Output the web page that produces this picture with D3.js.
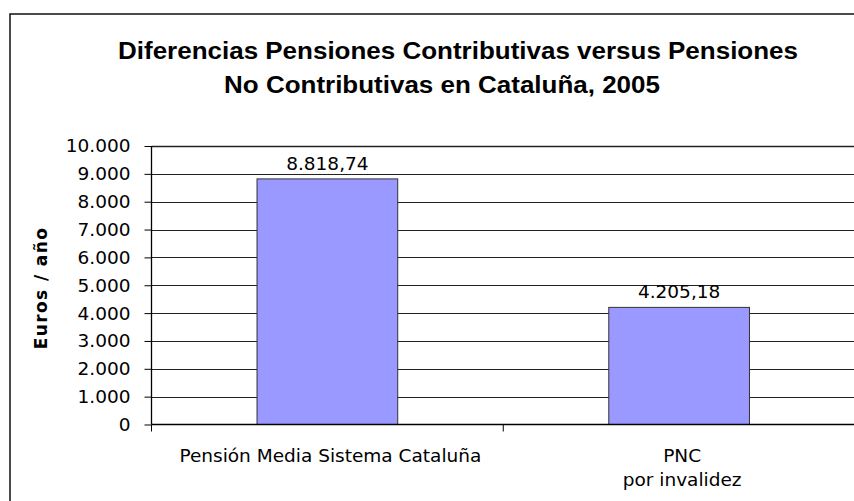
<!DOCTYPE html>
<html>
<head>
<meta charset="utf-8">
<script src="https://cdn.jsdelivr.net/npm/d3@7"></script>
<style>
  body { margin: 0; background: #fff; }
  svg { display: block; }
</style>
</head>
<body>
<div class="bar-chart-container"></div>
<script>
const categories = ['Pensión Media Sistema Cataluña', 'PNC\npor invalidez'];
const values = [8818.74, 4205.18];
const yTicks = [0, 1000, 2000, 3000, 4000, 5000, 6000, 7000, 8000, 9000, 10000];
const titleLines = ['Diferencias Pensiones Contributivas versus Pensiones', 'No Contributivas en Cataluña, 2005'];
const yLabel = 'Euros / año';

const es = d3.formatLocale({decimal: ',', thousands: '.', grouping: [3], currency: ['', ' €']});
const fmtTick = es.format(',d');
const fmtValue = es.format(',.2f');

function setupCanvas(){
    const svg_width = 854;
    const svg_height = 501;
    const plot = {left: 151.5, right: 855, top: 146, bottom: 424.5};
    const verdana = 'Verdana, "DejaVu Sans", sans-serif';

    const svg = d3.select('.bar-chart-container')
                  .append('svg')
                  .attr('width', svg_width)
                  .attr('height', svg_height);

    // outer chart border (runs off the right and bottom of the picture)
    svg.append('rect')
       .attr('x', 10).attr('y', 14)
       .attr('width', 900).attr('height', 600)
       .style('fill', 'none')
       .style('stroke', '#111')
       .style('stroke-width', 1.5);

    const xScale = d3.scaleBand().domain(categories)
                     .range([plot.left, plot.right])
                     .paddingInner(0.6).paddingOuter(0.3);
    const yScale = d3.scaleLinear().domain([0, 10000]).range([plot.bottom, plot.top]);

    // y axis ticks + labels
    const yAxis = d3.axisLeft(yScale).tickValues(yTicks).tickFormat(fmtTick)
                    .tickSizeInner(7).tickSizeOuter(0).tickPadding(14);
    const gy = svg.append('g').attr('class', 'yaxis')
                  .attr('transform', `translate(${plot.left},0)`)
                  .call(yAxis);
    gy.select('.domain').remove();
    gy.selectAll('text').style('font-family', verdana).style('font-size', '18.5px').style('fill', '#000');
    gy.selectAll('line').style('stroke', '#000');

    // gridlines
    svg.append('g').attr('class', 'grid')
       .selectAll('line').data(yTicks.filter(d => d > 0)).enter()
       .append('line')
       .attr('x1', plot.left).attr('x2', plot.right)
       .attr('y1', d => Math.round(yScale(d)) + 0.5)
       .attr('y2', d => Math.round(yScale(d)) + 0.5)
       .style('stroke', '#222')
       .style('stroke-width', d => d === 10000 ? 1.6 : 1);

    // bars
    svg.append('g').attr('class', 'bars')
       .selectAll('rect').data(values).enter()
       .append('rect')
       .attr('x', (d, i) => xScale(categories[i]))
       .attr('y', d => yScale(d))
       .attr('width', xScale.bandwidth())
       .attr('height', d => yScale(0) - yScale(d))
       .style('fill', '#9999ff')
       .style('stroke', '#333')
       .style('stroke-width', 1);

    // value labels
    svg.append('g').attr('class', 'value-labels')
       .selectAll('text').data(values).enter()
       .append('text')
       .attr('x', (d, i) => xScale(categories[i]) + xScale.bandwidth()/2)
       .attr('y', d => yScale(d) - 9)
       .attr('text-anchor', 'middle')
       .style('font-family', verdana).style('font-size', '18.5px')
       .text(d => fmtValue(d));

    // left axis line and baseline
    svg.append('line')
       .attr('x1', plot.left).attr('x2', plot.left)
       .attr('y1', plot.top).attr('y2', plot.bottom)
       .style('stroke', '#000').style('stroke-width', 1.3);
    svg.append('line')
       .attr('x1', plot.left).attr('x2', plot.right)
       .attr('y1', plot.bottom).attr('y2', plot.bottom)
       .style('stroke', '#000').style('stroke-width', 1.3);

    // category separator ticks
    const step = xScale.step();
    const bounds = categories.map((c, i) => plot.left + i * step).concat([plot.right]);
    svg.append('g').selectAll('line').data(bounds).enter()
       .append('line')
       .attr('x1', d => d).attr('x2', d => d)
       .attr('y1', plot.bottom).attr('y2', plot.bottom + 7)
       .style('stroke', '#000');

    // category labels
    svg.append('g').attr('class', 'x-labels')
       .selectAll('text').data(categories).enter()
       .append('text')
       .attr('text-anchor', 'middle')
       .attr('transform', d => `translate(${xScale(d) + xScale.bandwidth()/2 + 3}, 462)`)
       .style('font-family', verdana).style('font-size', '18.5px')
       .selectAll('tspan').data(d => d.split('\n')).enter()
       .append('tspan')
       .attr('x', 0)
       .attr('y', (d, i) => i * 23.5)
       .text(d => d);

    // y axis title
    svg.append('text')
       .attr('transform', 'translate(47, 288) rotate(-90)')
       .attr('text-anchor', 'middle')
       .style('font-family', verdana).style('font-size', '17px')
       .style('font-weight', 'bold').style('letter-spacing', '1.4px')
       .text(yLabel);

    // title (the original is slightly stretched horizontally)
    const titlePos = [[458, 58.5], [442, 92.5]];
    svg.append('g').attr('class', 'bar-header')
       .selectAll('text').data(titleLines).enter()
       .append('text')
       .attr('transform', (d, i) => `translate(${titlePos[i][0]}, ${titlePos[i][1]}) scale(1.083, 1)`)
       .attr('text-anchor', 'middle')
       .style('font-family', 'Arial, "Liberation Sans", sans-serif')
       .style('font-size', '24px').style('font-weight', 'bold')
       .text(d => d);
}

setupCanvas();
</script>
</body>
</html>
